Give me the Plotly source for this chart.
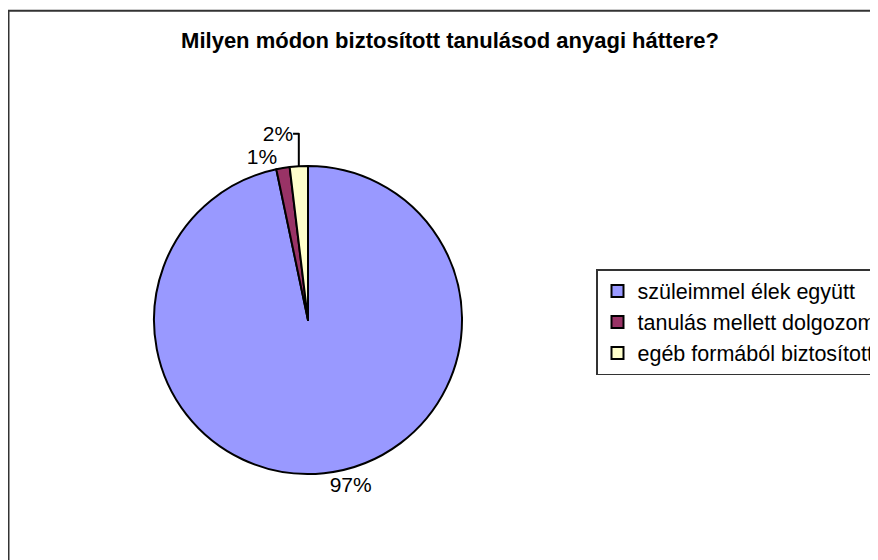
import plotly.graph_objects as go

labels = ["szüleimmel élek együtt", "tanulás mellett dolgozom", "egéb formából biztosított"]
values = [96.7, 1.4, 1.9]
colors = ["#9999FF", "#993366", "#FFFFCC"]
title_text = "Milyen módon biztosított tanulásod anyagi háttere?"

W, H = 878, 560
cx, cy, r = 300, 312, 154

fig = go.Figure(go.Pie(
    labels=labels,
    values=values,
    sort=False,
    direction="clockwise",
    rotation=0,
    marker=dict(colors=colors, line=dict(color="black", width=2)),
    textinfo="percent",
    texttemplate="%{percent:.0%}",
    textposition="outside",
    outsidetextfont=dict(family="Liberation Sans, Arial", size=21, color="black"),
    domain=dict(x=[(cx - r) / W, (cx + r) / W], y=[(H - cy - r) / H, (H - cy + r) / H]),
    automargin=False,
    hoverinfo="label+percent",
))

fig.update_layout(
    width=W, height=H,
    margin=dict(l=0, r=0, t=0, b=0),
    paper_bgcolor="white",
    font=dict(family="Liberation Sans, Arial", color="black"),
    title=dict(text="<b>" + title_text + "</b>", x=442 / W, xanchor="center",
               y=1 - 32 / H, yanchor="middle", font=dict(size=22, color="black")),
    legend=dict(x=588 / W, xanchor="left", y=1 - 261 / H, yanchor="top",
                bordercolor="#333333", borderwidth=1.5, bgcolor="white",
                tracegroupgap=0, itemsizing="constant",
                font=dict(size=21.5, color="black")),
    shapes=[dict(type="rect", xref="paper", yref="paper",
                 x0=0.5 / W, x1=1.02, y0=-0.02, y1=1 - 2.7 / H,
                 line=dict(color="#333333", width=2), layer="below")],
)

fig.write_html("out.html")
